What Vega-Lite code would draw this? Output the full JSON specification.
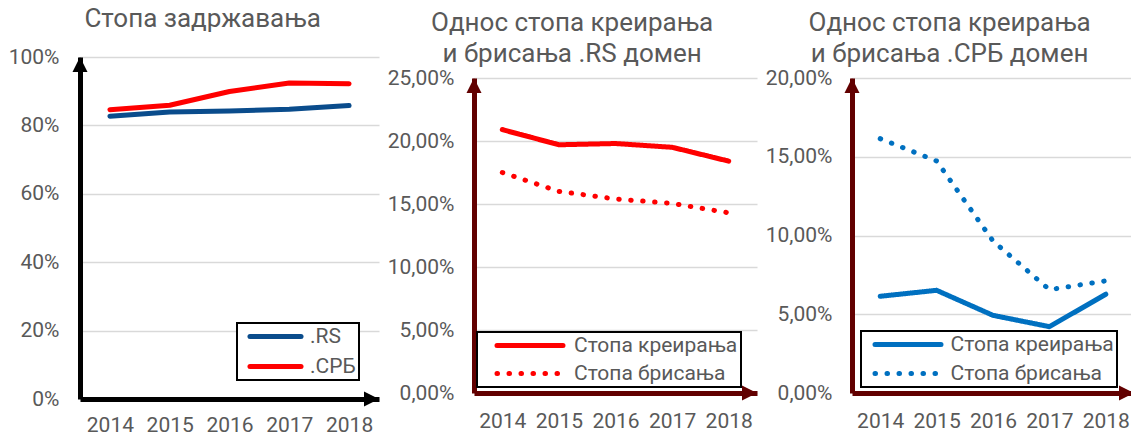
{
  "$schema": "https://vega.github.io/schema/vega-lite/v6.json",
  "padding": {"left": 8, "top": 6, "right": 0, "bottom": 0},
  "spacing": 8,
  "resolve": {"scale": {"strokeDash": "independent", "color": "independent"}, "legend": {"strokeDash": "independent", "color": "independent"}},
  "datasets": {
    "p1": [
      {"series": ".RS", "year": 2014, "value": 0.827},
      {"series": ".RS", "year": 2015, "value": 0.839},
      {"series": ".RS", "year": 2016, "value": 0.842},
      {"series": ".RS", "year": 2017, "value": 0.847},
      {"series": ".RS", "year": 2018, "value": 0.858},
      {"series": ".СРБ", "year": 2014, "value": 0.846},
      {"series": ".СРБ", "year": 2015, "value": 0.859},
      {"series": ".СРБ", "year": 2016, "value": 0.899},
      {"series": ".СРБ", "year": 2017, "value": 0.924},
      {"series": ".СРБ", "year": 2018, "value": 0.922}
    ],
    "p2": [
      {"series": "Стопа креирања", "year": 2014, "value": 0.209},
      {"series": "Стопа креирања", "year": 2015, "value": 0.197},
      {"series": "Стопа креирања", "year": 2016, "value": 0.198},
      {"series": "Стопа креирања", "year": 2017, "value": 0.195},
      {"series": "Стопа креирања", "year": 2018, "value": 0.184},
      {"series": "Стопа брисања", "year": 2014, "value": 0.175},
      {"series": "Стопа брисања", "year": 2015, "value": 0.160},
      {"series": "Стопа брисања", "year": 2016, "value": 0.154},
      {"series": "Стопа брисања", "year": 2017, "value": 0.1505},
      {"series": "Стопа брисања", "year": 2018, "value": 0.143}
    ],
    "p3": [
      {"series": "Стопа креирања", "year": 2014, "value": 0.0614},
      {"series": "Стопа креирања", "year": 2015, "value": 0.0652},
      {"series": "Стопа креирања", "year": 2016, "value": 0.0493},
      {"series": "Стопа креирања", "year": 2017, "value": 0.0421},
      {"series": "Стопа креирања", "year": 2018, "value": 0.0627},
      {"series": "Стопа брисања", "year": 2014, "value": 0.1615},
      {"series": "Стопа брисања", "year": 2015, "value": 0.1473},
      {"series": "Стопа брисања", "year": 2016, "value": 0.0965},
      {"series": "Стопа брисања", "year": 2017, "value": 0.0656},
      {"series": "Стопа брисања", "year": 2018, "value": 0.0712}
    ]
  },
  "hconcat": [
    {
      "width": 299,
      "height": 342,
      "title": {"text": "Стопа задржавања", "frame": "bounds", "anchor": "middle", "offset": 14, "dx": 9},
      "layer": [
        {
          "data": {"name": "p1"},
          "mark": {"type": "line", "strokeWidth": 5, "strokeCap": "round", "strokeJoin": "round"},
          "encoding": {
            "x": {"field": "year", "type": "quantitative",
              "scale": {"domain": [2013.5, 2018.5], "nice": false, "zero": false},
              "axis": {"values": [2014, 2015, 2016, 2017, 2018], "format": "d", "title": null, "grid": false, "ticks": false, "domainColor": "black", "domainWidth": 5, "labelPadding": 15.5}},
            "y": {"field": "value", "type": "quantitative",
              "scale": {"domain": [0, 1], "nice": false},
              "axis": {"values": [0, 0.2, 0.4, 0.6, 0.8, 1], "format": ".0%", "title": null, "grid": true, "ticks": false, "domainColor": "black", "domainWidth": 5, "labelPadding": 21}},
            "color": {"field": "series", "type": "nominal",
              "scale": {"domain": [".RS", ".СРБ"], "range": ["#0A4C8C", "#FF0000"]},
              "legend": {"orient": "none", "legendX": 157, "legendY": 266, "title": null, "symbolType": "M-3.19,0L3.19,0", "symbolSize": 256, "symbolStrokeWidth": 5, "rowPadding": 8, "padding": 3, "symbolOffset": 25, "labelOffset": 24,
                "encoding": {"symbols": {"strokeCap": {"value": "round"}}, "legend": {"strokeWidth": {"value": 2}}}}}
          }
        },
        {
          "data": {"values": [{}]},
          "mark": {"type": "point", "shape": "M-0.5,1L0,0L0.5,1Z", "filled": true, "size": 900, "color": "black", "opacity": 1},
          "encoding": {"x": {"datum": 2013.5, "type": "quantitative"}, "y": {"datum": 1, "type": "quantitative"}}
        },
        {
          "data": {"values": [{}]},
          "mark": {"type": "point", "shape": "M-1,-0.5L0,0L-1,0.5Z", "filled": true, "size": 900, "color": "black", "opacity": 1},
          "encoding": {"x": {"datum": 2018.5, "type": "quantitative"}, "y": {"datum": 0, "type": "quantitative"}}
        }
      ]
    },
    {
      "width": 283,
      "height": 336,
      "title": {"text": ["Однос стопа креирања", "и брисања .RS домен"], "frame": "bounds", "anchor": "middle", "offset": -10},
      "layer": [
        {
          "data": {"name": "p2"},
          "mark": {"type": "line", "strokeWidth": 5, "strokeCap": "round", "strokeJoin": "round", "color": "#FF0000"},
          "encoding": {
            "x": {"field": "year", "type": "quantitative",
              "scale": {"domain": [2013.5, 2018.5], "nice": false, "zero": false},
              "axis": {"values": [2014, 2015, 2016, 2017, 2018], "format": "d", "title": null, "grid": false, "ticks": false, "domainColor": "#620000", "domainWidth": 5, "labelPadding": 17.5}},
            "y": {"field": "value", "type": "quantitative",
              "scale": {"domain": [0, 0.25], "nice": false, "range": [336, 21]},
              "axis": {"values": [0, 0.05, 0.1, 0.15, 0.2, 0.25], "labelExpr": "replace(format(datum.value, '.2%'), '.', ',')", "title": null, "grid": true, "ticks": false, "domainColor": "#620000", "domainWidth": 5, "labelPadding": 20}},
            "strokeDash": {"field": "series", "type": "nominal",
              "scale": {"domain": ["Стопа креирања", "Стопа брисања"], "range": [[1, 0], [0.5, 11.5]]},
              "legend": {"orient": "none", "legendX": 3, "legendY": 275, "title": null, "symbolType": "M-4.125,0L4.125,0", "symbolSize": 256, "symbolStrokeWidth": 5, "rowPadding": 6, "padding": 3, "symbolOffset": 39.5, "labelOffset": 33.5,
                "encoding": {"symbols": {"strokeCap": {"value": "round"}}, "legend": {"strokeWidth": {"value": 2}}}}}
          }
        },
        {
          "data": {"values": [{}]},
          "mark": {"type": "point", "shape": "M-0.5,1L0,0L0.5,1Z", "filled": true, "size": 900, "color": "#620000", "opacity": 1},
          "encoding": {"x": {"datum": 2013.5, "type": "quantitative"}, "y": {"datum": 0.25, "type": "quantitative"}}
        },
        {
          "data": {"values": [{}]},
          "mark": {"type": "point", "shape": "M-1,-0.5L0,0L-1,0.5Z", "filled": true, "size": 900, "color": "#620000", "opacity": 1},
          "encoding": {"x": {"datum": 2018.5, "type": "quantitative"}, "y": {"datum": 0, "type": "quantitative"}}
        }
      ]
    },
    {
      "width": 282,
      "height": 336,
      "title": {"text": ["Однос стопа креирања", "и брисања .СРБ домен"], "frame": "bounds", "anchor": "middle", "offset": -10},
      "layer": [
        {
          "data": {"name": "p3"},
          "mark": {"type": "line", "strokeWidth": 5, "strokeCap": "round", "strokeJoin": "round", "color": "#0070C0"},
          "encoding": {
            "x": {"field": "year", "type": "quantitative",
              "scale": {"domain": [2013.5, 2018.5], "nice": false, "zero": false},
              "axis": {"values": [2014, 2015, 2016, 2017, 2018], "format": "d", "title": null, "grid": false, "ticks": false, "domainColor": "#620000", "domainWidth": 5, "labelPadding": 17.5}},
            "y": {"field": "value", "type": "quantitative",
              "scale": {"domain": [0, 0.2], "nice": false, "range": [336, 21]},
              "axis": {"values": [0, 0.05, 0.1, 0.15, 0.2], "labelExpr": "replace(format(datum.value, '.2%'), '.', ',')", "title": null, "grid": true, "ticks": false, "domainColor": "#620000", "domainWidth": 5, "labelPadding": 20}},
            "strokeDash": {"field": "series", "type": "nominal",
              "scale": {"domain": ["Стопа креирања", "Стопа брисања"], "range": [[1, 0], [0.5, 11.5]]},
              "legend": {"orient": "none", "legendX": 9, "legendY": 274, "title": null, "symbolType": "M-4.125,0L4.125,0", "symbolSize": 256, "symbolStrokeWidth": 5, "rowPadding": 7, "padding": 3, "symbolOffset": 33.5, "labelOffset": 32.1,
                "encoding": {"symbols": {"strokeCap": {"value": "round"}}, "legend": {"strokeWidth": {"value": 2}}}}}
          }
        },
        {
          "data": {"values": [{}]},
          "mark": {"type": "point", "shape": "M-0.5,1L0,0L0.5,1Z", "filled": true, "size": 900, "color": "#620000", "opacity": 1},
          "encoding": {"x": {"datum": 2013.5, "type": "quantitative"}, "y": {"datum": 0.2, "type": "quantitative"}}
        },
        {
          "data": {"values": [{}]},
          "mark": {"type": "point", "shape": "M-1,-0.5L0,0L-1,0.5Z", "filled": true, "size": 900, "color": "#620000", "opacity": 1},
          "encoding": {"x": {"datum": 2018.5, "type": "quantitative"}, "y": {"datum": 0, "type": "quantitative"}}
        }
      ]
    }
  ],
  "config": {
    "font": "Roboto",
    "view": {"stroke": null},
    "title": {"fontSize": 26, "fontWeight": "normal", "color": "#595959", "lineHeight": 31, "font": "Roboto"},
    "axis": {"labelFontSize": 21, "labelColor": "#595959", "labelFont": "Roboto", "gridColor": "#D9D9D9", "gridWidth": 1.5, "labelFlush": false, "labelOverlap": false, "labelBound": false},
    "legend": {"labelFontSize": 21, "labelColor": "#595959", "labelFont": "Roboto", "labelLimit": 0, "strokeColor": "black", "fillColor": "white"}
  }
}
